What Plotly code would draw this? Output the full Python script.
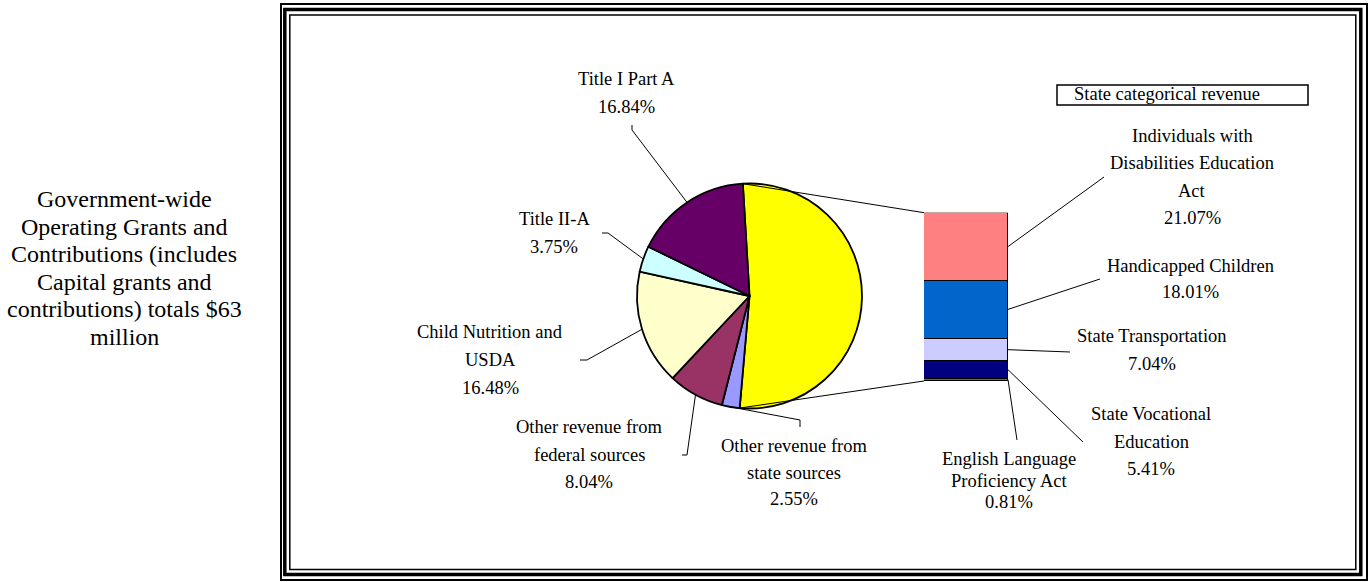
import math
import plotly.graph_objects as go

W, H = 1371, 582

# ---------------- data ----------------
pie_labels = ["State categorical revenue",
              "Other revenue from\nstate sources",
              "Other revenue from\nfederal sources",
              "Child Nutrition and\nUSDA",
              "Title II-A",
              "Title I Part A"]
pie_values = [52.34, 2.55, 8.04, 16.48, 3.75, 16.84]
pie_colors = ["#FFFF00", "#9999FF", "#993366", "#FFFFCC", "#CCFFFF", "#660066"]

bar_labels = ["English Language\nProficiency Act",
              "State Vocational\nEducation",
              "State Transportation",
              "Handicapped Children",
              "Individuals with\nDisabilities Education\nAct"]
bar_values = [0.81, 5.41, 7.04, 18.01, 21.07]
bar_colors = ["#FF00FF", "#000080", "#CCCCFF", "#0066CC", "#FF8080"]

side_text = ["Government-wide", "Operating Grants and", "Contributions (includes",
             "Capital grants and", "contributions) totals $63", "million"]
box_title = "State categorical revenue"

# ---------------- layout geometry (pixels) ----------------
CX, CY, R = 749.5, 296.0, 112.5
ROT = -3.4
BX0, BX1, BYT, BYB = 924.0, 1008.0, 212.7, 381.0
FONT = "Liberation Serif"
FS = 18.5


def px(x):
    return x / W


def py(y):
    return 1 - y / H


fig = go.Figure()

fig.add_trace(go.Pie(
    labels=[l.replace("\n", " ") for l in pie_labels], values=pie_values,
    sort=False, direction="clockwise", rotation=ROT,
    marker=dict(colors=pie_colors, line=dict(color="black", width=1.8)),
    textinfo="none", hoverinfo="label+percent", showlegend=False,
    domain=dict(x=[px(CX - R), px(CX + R)], y=[py(CY + R), py(CY - R)]),
))

for lab, v, c in zip(bar_labels, bar_values, bar_colors):
    fig.add_trace(go.Bar(
        x=[0], y=[v], width=1, name=lab.replace("\n", " "),
        marker=dict(color=c, line=dict(color="black", width=1)),
        showlegend=False, xaxis="x", yaxis="y",
    ))

total_pie = sum(pie_values)
total_bar = sum(bar_values)

shapes = []
annotations = []


def seg_path(points, width=1.0):
    d = "M " + " L ".join(f"{px(x):.6f},{py(y):.6f}" for x, y in points)
    shapes.append(dict(type="path", path=d, xref="paper", yref="paper",
                       line=dict(color="black", width=width)))


def pie_point(frac):
    a = math.radians(ROT + 360.0 * frac)
    return (CX + R * math.sin(a), CY - R * math.cos(a))


def bar_y(val):
    return BYB - (BYB - BYT) * val / total_bar


# connector lines pie -> bar
seg_path([pie_point(0), (BX0, BYT)])
seg_path([pie_point(pie_values[0] / total_pie), (BX0, BYB)])

# pie slice leader targets (mid angle)
cum = 0
pie_mid = []
for v in pie_values:
    pie_mid.append(pie_point((cum + v / 2) / total_pie))
    cum += v

cum = 0
bar_mid = []
for v in bar_values:
    bar_mid.append((BX1, bar_y(cum + v / 2)))
    cum += v

# label positions: (x center, first line y center, line spacing, leader start points)
pie_label_pos = {
    1: (794, 446, 26.5, [(800, 427), (800, 420)]),
    2: (589, 427, 27.5, [(682, 455), (687, 455)]),
    3: (490, 332, 28.0, [(580, 360), (587, 360)]),
    4: (554, 219, 28.0, [(602, 233), (608, 233)]),
    5: (626, 79, 28.0, [(632, 125), (632, 130)]),
}
bar_label_pos = {
    0: (1009, 459, 21.5, [(1017, 440)]),
    1: (1151, 414, 27.5, [(1083, 442)]),
    2: (1152, 336, 28.0, [(1070, 352)]),
    3: (1190, 266, 26.0, [(1100, 279)]),
    4: (1192, 136, 27.3, [(1104, 177)]),
}


def add_lines(lines, x, y0, sp, size=FS):
    for i, t in enumerate(lines):
        annotations.append(dict(x=px(x), y=py(y0 + i * sp), xref="paper", yref="paper",
                                text=t, showarrow=False, xanchor="center", yanchor="middle",
                                font=dict(family=FONT, size=size, color="black")))


for i, (x, y0, sp, pts) in pie_label_pos.items():
    lines = pie_labels[i].split("\n") + [f"{100 * pie_values[i] / total_pie:.2f}%"]
    add_lines(lines, x, y0, sp)
    seg_path(pts + [pie_mid[i]])

for i, (x, y0, sp, pts) in bar_label_pos.items():
    lines = bar_labels[i].split("\n") + [f"{bar_values[i]:.2f}%"]
    add_lines(lines, x, y0, sp)
    seg_path(pts + [bar_mid[i]])

# side text
add_lines(side_text, 124, 199, 27.6, size=24)

# box title
shapes.append(dict(type="rect", xref="paper", yref="paper",
                   x0=px(1057), x1=px(1308), y0=py(105), y1=py(85),
                   line=dict(color="black", width=1.5), fillcolor="white", layer="below"))
annotations.append(dict(x=px(1072), y=py(94.5), xref="paper", yref="paper", text=box_title,
                        showarrow=False, xanchor="left", yanchor="middle",
                        font=dict(family=FONT, size=FS, color="black")))

# frame (thick-thin border)
for (x0, y0, x1, y1, w) in [(281, 4, 1367, 580, 2), (284.8, 9.5, 1360.8, 574.5, 3.5),
                            (289.8, 15, 1355.8, 569.5, 1.5)]:
    shapes.append(dict(type="rect", xref="paper", yref="paper",
                       x0=px(x0), x1=px(x1), y0=py(y1), y1=py(y0),
                       line=dict(color="black", width=w), layer="above"))

fig.update_layout(
    width=W, height=H, margin=dict(l=0, r=0, t=0, b=0),
    paper_bgcolor="white", plot_bgcolor="rgba(0,0,0,0)",
    barmode="stack", bargap=0,
    xaxis=dict(domain=[px(BX0), px(BX1)], range=[-0.5, 0.5], visible=False, fixedrange=True),
    yaxis=dict(domain=[py(BYB), py(BYT)], range=[0, total_bar], visible=False, fixedrange=True),
    shapes=shapes, annotations=annotations, showlegend=False,
)

fig.write_html("out.html", config={"displayModeBar": False},
               post_script="document.body.style.margin='0';")
